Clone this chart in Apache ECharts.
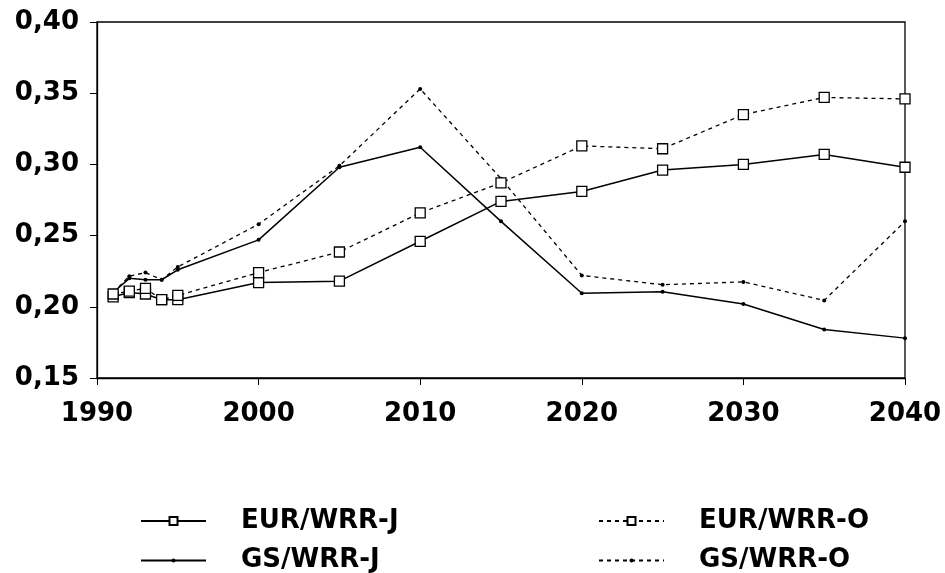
<!DOCTYPE html>
<html><head><meta charset="utf-8">
<script src="https://cdn.jsdelivr.net/npm/echarts@6/dist/echarts.min.js"></script>
<style>html,body{margin:0;padding:0;background:#fff}#c{width:945px;height:573px}</style>
</head><body><div id="c"></div>
<script>
const years = [1991,1992,1993,1994,1995,2000,2005,2010,2015,2020,2025,2030,2035,2040];
const eurJ = [0.207,0.210,0.209,0.205,0.205,0.217,0.218,0.246,0.274,0.281,0.296,0.300,0.307,0.298];
const eurO = [0.209,0.211,0.213,0.205,0.208,0.224,0.2385,0.266,0.287,0.313,0.311,0.335,0.347,0.346];
const gsJ  = [0.210,0.220,0.219,0.219,0.226,0.247,0.298,0.312,0.260,0.2095,0.2105,0.202,0.184,0.178];
const gsO  = [0.210,0.2215,0.224,0.219,0.228,0.258,0.299,0.353,0.290,0.222,0.2155,0.2175,0.2045,0.260];
const xTicks = [1990,2000,2010,2020,2030,2040];
const yTicks = [0.15,0.20,0.25,0.30,0.35,0.40];

const font = '"DejaVu Sans", sans-serif';
function pairs(v){ return years.map((y,i)=>[y,v[i]]); }
const sqStyle = {color:'#fff', borderColor:'#000', borderWidth:1.3};
const dotStyle = {color:'#000'};
function mk(name, data, dashed, square){
  return {
    name, type:'line', data:pairs(data),
    symbol: square ? 'rect' : 'circle',
    symbolSize: square ? 10 : 4,
    showAllSymbol:true,
    lineStyle:{color:'#000', width: dashed?1.3:1.5, type: dashed?[4,4]:'solid'},
    itemStyle: square ? sqStyle : dotStyle,
    z: square?3:2
  };
}
const txt = {color:'#000',fontFamily:font,fontWeight:'bold'};
function leg(name, left, top, h){
  return {data:[name],left,top:top+(10-h)/2,padding:0,itemWidth:65,itemHeight:h,
    textStyle:Object.assign({fontSize:26,padding:[0,0,0,30]},txt)};
}
const chart = echarts.init(document.getElementById('c'));
chart.setOption({
  animation:false,
  backgroundColor:'#fff',
  grid:{left:97,right:40,top:22,bottom:195,show:true,borderColor:'#000',borderWidth:1.3},
  xAxis:{type:'value',min:xTicks[0],max:xTicks[xTicks.length-1],interval:10,
    axisLine:{lineStyle:{color:'#000',width:1.3}},
    axisTick:{show:true,length:7,lineStyle:{color:'#000'}},
    splitLine:{show:false},
    axisLabel:Object.assign({fontSize:26,margin:23,formatter:v=>String(v)},txt)},
  yAxis:{type:'value',min:yTicks[0],max:yTicks[yTicks.length-1],interval:0.05,
    axisLine:{show:true,lineStyle:{color:'#000',width:1.3}},
    axisTick:{show:true,length:7,lineStyle:{color:'#000'}},
    splitLine:{show:false},
    axisLabel:Object.assign({fontSize:26,margin:18,
      formatter:v=>v.toFixed(2).replace('.',',')},txt)},
  legend:[
    leg('EUR/WRR-J',140,508,10),
    leg('GS/WRR-J',140,545,5),
    leg('EUR/WRR-O',598,508,10),
    leg('GS/WRR-O',598,545,5)
  ],
  series:[
    mk('EUR/WRR-J',eurJ,false,true),
    mk('EUR/WRR-O',eurO,true,true),
    mk('GS/WRR-J',gsJ,false,false),
    mk('GS/WRR-O',gsO,true,false)
  ]
});
</script></body></html>
